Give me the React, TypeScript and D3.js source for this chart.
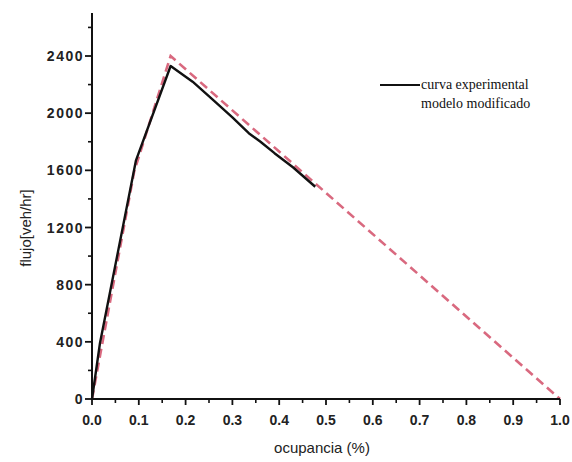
import React from "react";
import * as d3 from "d3";

const expX = [0, 0.017, 0.094, 0.168, 0.215, 0.258, 0.3, 0.335, 0.36, 0.39, 0.43, 0.477];
const expY = [0, 390, 1670, 2330, 2220, 2095, 1970, 1860, 1800, 1720, 1620, 1485];
const modX = [0, 0.09, 0.168, 1.0];
const modY = [0, 1590, 2400, 0];
const xTicks = [0, 0.1, 0.2, 0.3, 0.4, 0.5, 0.6, 0.7, 0.8, 0.9, 1.0];
const yTicks = [0, 400, 800, 1200, 1600, 2000, 2400];
const legendLabels = ["curva experimental", "modelo modificado"];

export default function App() {
  const W = 572, H = 462;
  const x = d3.scaleLinear().domain([0, 1]).range([92, 560]);
  const y = d3.scaleLinear().domain([0, 2400]).range([399, 56]);
  const yTop = 13;
  const line = d3.line<[number, number]>().x(d => x(d[0])).y(d => y(d[1]));
  const expData = expX.map((v, i) => [v, expY[i]] as [number, number]);
  const modData = modX.map((v, i) => [v, modY[i]] as [number, number]);
  const xMinor = d3.range(0.05, 1, 0.1);
  const yMinor = d3.range(200, 2700, 400);
  const font = "'Liberation Sans', Arial, sans-serif";
  return (
    <svg width={W} height={H} style={{ position: "absolute", left: 0, top: 0, background: "#fff" }}>
      {/* data */}
      <path d={line(modData) || ""} fill="none" stroke="#d9697f" strokeWidth={2.6} strokeDasharray="9,5" />
      <path d={line(expData) || ""} fill="none" stroke="#111" strokeWidth={2.4} strokeLinejoin="round" />
      {/* axes */}
      <line x1={x(0)} x2={x(0)} y1={yTop} y2={y(0) + 1} stroke="#111" strokeWidth={2} />
      <line x1={x(0) - 1} x2={x(1)} y1={y(0)} y2={y(0)} stroke="#111" strokeWidth={2} />
      {xTicks.map(t => (
        <g key={"xt" + t}>
          <line x1={x(t)} x2={x(t)} y1={y(0)} y2={y(0) + 6} stroke="#111" strokeWidth={1.8} />
          <text x={x(t)} y={425} textAnchor="middle" fontFamily={font} fontSize={14} fontWeight={600} fill="#222">
            {t.toFixed(1)}
          </text>
        </g>
      ))}
      {xMinor.map(t => (
        <line key={"xm" + t} x1={x(t)} x2={x(t)} y1={y(0)} y2={y(0) + 4} stroke="#111" strokeWidth={1.6} />
      ))}
      {yTicks.map(t => (
        <g key={"yt" + t}>
          <line x1={x(0) - 7} x2={x(0)} y1={y(t)} y2={y(t)} stroke="#111" strokeWidth={1.8} />
          <text x={84} y={y(t) + 5} textAnchor="end" fontFamily={font} fontSize={14} fontWeight={600} letterSpacing={1.5} fill="#222">
            {t}
          </text>
        </g>
      ))}
      {yMinor.map(t => (
        <line key={"ym" + t} x1={x(0) - 4} x2={x(0)} y1={y(t)} y2={y(t)} stroke="#111" strokeWidth={1.6} />
      ))}
      {/* axis titles */}
      <text x={322} y={453} textAnchor="middle" fontFamily={font} fontSize={15} fill="#222">ocupancia (%)</text>
      <text transform="translate(31,228) rotate(-90)" textAnchor="middle" fontFamily={font} fontSize={15} fill="#222">flujo[veh/hr]</text>
      {/* legend */}
      <line x1={380} x2={420} y1={85} y2={85} stroke="#111" strokeWidth={2.2} />
      <text x={421} y={89} fontFamily="'Liberation Serif', 'Times New Roman', serif" fontSize={14} fill="#111">{legendLabels[0]}</text>
      <text x={421} y={108} fontFamily="'Liberation Serif', 'Times New Roman', serif" fontSize={14} fill="#111">{legendLabels[1]}</text>
    </svg>
  );
}
